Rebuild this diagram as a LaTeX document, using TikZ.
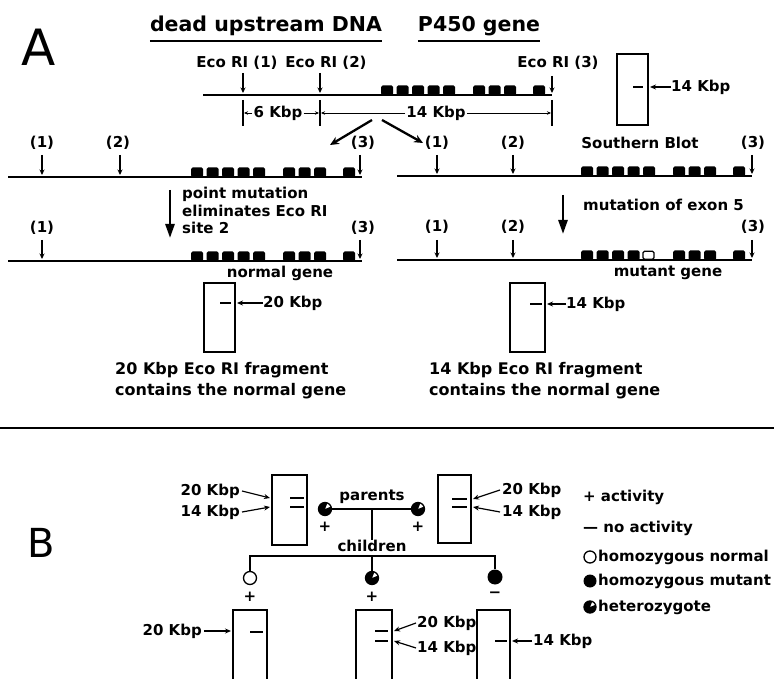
\documentclass[tikz,border=0pt]{standalone}
\usepackage{fontspec}
\setmainfont{DejaVu Sans}
\usetikzlibrary{arrows.meta,calc}

% exons of the P450 gene: #1 = right end of the DNA, #2 = y of the DNA, #3 = open exon (0 = none)
\newcommand{\exonrow}[3]{%
  \foreach \dx [count=\i] in {171,155.5,140,124.5,109,79,63.5,48,19}{
    \ifnum\i=#3
      \draw[exon,fill=white] (#1-\dx,#2-0.8) rectangle ++(11,-8);
    \else
      \fill[exon] (#1-\dx,#2) rectangle ++(12,-9.5);
    \fi
  }}

\begin{document}
\begin{tikzpicture}[x=1pt,y=-1pt,
  lbl/.style={font=\fontsize{15}{17}\selectfont\bfseries, inner sep=0pt},
  capt/.style={font=\fontsize{16}{18}\selectfont\bfseries, inner sep=0pt},
  ttl/.style={font=\fontsize{20.5}{24}\selectfont\bfseries, inner sep=0pt},
  big/.style={font=\fontsize{50}{60}\selectfont, inner sep=0pt},
  dna/.style={line width=1.6pt},
  uline/.style={line width=1.5pt},
  exon/.style={line width=1.2pt, rounded corners=1.5pt},
  site/.style={line width=1.3pt, -{Stealth[length=5.5pt,width=5pt]}},
  dim/.style={line width=0.8pt, -{Stealth[length=4pt,width=3.5pt]}},
  tick/.style={line width=1.4pt},
  split/.style={line width=2.3pt, -{Stealth[length=9pt,width=8pt]}},
  mutarrow/.style={line width=2.6pt, -{Triangle[length=14pt,width=9pt]}},
  blot/.style={line width=1.6pt},
  band/.style={line width=1.6pt},
  kbp/.style={line width=1.2pt, -{Stealth[length=6pt,width=5pt]}},
  ped/.style={line width=1.8pt},
  hom/.style={circle, draw, line width=1.3pt, minimum size=13pt, inner sep=0pt},
  mut/.style={circle, fill, minimum size=15pt, inner sep=0pt},
  het/.style={hom, path picture={
    \fill (path picture bounding box.south west) -- (path picture bounding box.north west)
      -- ($(path picture bounding box.north west)!0.7!(path picture bounding box.north east)$)
      -- (path picture bounding box.center)
      -- ($(path picture bounding box.north east)!0.3!(path picture bounding box.south east)$)
      -- (path picture bounding box.south east) -- cycle;}},
]
\useasboundingbox (0,0) rectangle (774,679);

% ---------------- part A ----------------
\node[big] (partA) at (39,47) {A};
\node[ttl, anchor=base] (upDNA) at (266,32) {dead upstream DNA};
\node[ttl, anchor=base] (pgene) at (479,32) {P450 gene};
\draw[uline] ([yshift=-9pt]upDNA.base west) -- ([yshift=-9pt]upDNA.base east);
\draw[uline] ([yshift=-9pt]pgene.base west) -- ([yshift=-9pt]pgene.base east);

% wild type locus
\node[lbl] (eco1) at (237,63) {Eco RI (1)};
\node[lbl] (eco2) at (326,63) {Eco RI (2)};
\node[lbl] (eco3) at (558,63) {Eco RI (3)};
\draw[dna] (203,95) -- (552,95);
\exonrow{552}{95}{0}
\draw[site] (243,73) -- (243,93);
\draw[site] (320,73) -- (320,93);
\draw[site] (552,76) -- (552,93);
\foreach \x in {243,320,552}
  \draw[tick] (\x,100) -- (\x,126);
\node[lbl] (k6) at (278,113) {6 Kbp};
\node[lbl] (k14) at (436,113) {14 Kbp};
\draw[dim] ([xshift=-1pt]k6.west) -- (244,113);
\draw[dim] ([xshift=1pt]k6.east) -- (319,113);
\draw[dim] ([xshift=-1pt]k14.west) -- (321,113);
\draw[dim] ([xshift=1pt]k14.east) -- (551,113);
\draw[split] (372,120) -- (330,145);
\draw[split] (382,120) -- (423,143);

% Southern blot of the wild type
\draw[blot] (617,54) rectangle (648,125);
\draw[band] (633,87) -- (643,87);
\node[lbl, anchor=west] (sb14) at (671,87) {14 Kbp};
\draw[kbp] (sb14.west) -- (650,87);
\node[lbl] (sblot) at (640,143) {Southern Blot};

% left: loss of site 2
\foreach \x/\t in {42/(1),118/(2),363/(3)}
  \node[lbl] at (\x,143) {\t};
\draw[dna] (8,177) -- (362,177);
\exonrow{362}{177}{0}
\foreach \x in {42,120,360}
  \draw[site] (\x,155) -- (\x,175);
\draw[mutarrow] (170,190) -- (170,238);
\node[lbl, align=left, anchor=north west, font=\fontsize{15}{17.5}\selectfont\bfseries] (pmut) at (182,187)
  {point mutation\\eliminates Eco RI\\site 2};
\node[lbl] (l1b) at (42,228) {(1)};
\node[lbl] (l3b) at (363,228) {(3)};
\draw[dna] (8,261) -- (362,261);
\exonrow{362}{261}{0}
\draw[site] (42,240) -- (42,259);
\draw[site] (360,240) -- (360,259);
\node[lbl] (ngene) at (280,273) {normal gene};
\draw[blot] (204,283) rectangle (235,352);
\draw[band] (220,303) -- (231,303);
\node[lbl, anchor=west] (b20) at (263,303) {20 Kbp};
\draw[kbp] (b20.west) -- (237,303);
\node[capt, anchor=base west] (capL1) at (115,374) {20 Kbp Eco RI fragment};
\node[capt, anchor=base west] (capL2) at (115,395) {contains the normal gene};

% right: exon 5 mutated
\foreach \x/\t in {437/(1),513/(2),753/(3)}
  \node[lbl] at (\x,143) {\t};
\draw[dna] (397,176) -- (752,176);
\exonrow{752}{176}{0}
\foreach \x in {437,513,752}
  \draw[site] (\x,155) -- (\x,174);
\draw[mutarrow] (563,195) -- (563,234);
\node[lbl, anchor=west] (mex5) at (583,205) {mutation of exon 5};
\foreach \x/\t in {437/(1),513/(2),753/(3)}
  \node[lbl] at (\x,227) {\t};
\draw[dna] (397,260) -- (752,260);
\exonrow{752}{260}{5}
\foreach \x in {437,513,752}
  \draw[site] (\x,240) -- (\x,258);
\node[lbl] (mgene) at (668,273) {mutant gene};
\draw[blot] (510,283) rectangle (545,352);
\draw[band] (530,304) -- (542,304);
\node[lbl, anchor=west] (b14) at (566,304) {14 Kbp};
\draw[kbp] (b14.west) -- (547,304);
\node[capt, anchor=base west] (capR1) at (429,374) {14 Kbp Eco RI fragment};
\node[capt, anchor=base west] (capR2) at (429,395) {contains the normal gene};

\draw[line width=2pt] (0,428) -- (774,428);

% ---------------- part B ----------------
\node[big, font=\fontsize{40}{48}\selectfont] (partB) at (41,543) {B};

% parents and their blots
\draw[blot] (272,475) rectangle (307,545);
\draw[band] (290,498) -- (304,498);
\draw[band] (290,507) -- (304,507);
\node[lbl, anchor=east] (pa20) at (240,491) {20 Kbp};
\node[lbl, anchor=east] (pa14) at (240,512) {14 Kbp};
\draw[kbp] ([xshift=2pt]pa20.east) -- (270,498);
\draw[kbp] ([xshift=2pt]pa14.east) -- (270,507);

\draw[blot] (438,475) rectangle (471,543);
\draw[band] (452,499) -- (467,499);
\draw[band] (452,507) -- (467,507);
\node[lbl, anchor=west] (pb20) at (502,490) {20 Kbp};
\node[lbl, anchor=west] (pb14) at (502,512) {14 Kbp};
\draw[kbp] ([xshift=-2pt]pb20.west) -- (473,499);
\draw[kbp] ([xshift=-2pt]pb14.west) -- (473,507);

\node[het] (mom) at (325,509) {};
\node[het] (dad) at (418,509) {};
\draw[ped] (mom) -- (dad);
\node[lbl] (plmom) at (325,527) {+};
\node[lbl] (pldad) at (418,527) {+};
\node[lbl] (parents) at (372,497) {parents};
\node[lbl] (children) at (372,546) {children};
\coordinate (mate) at (372,509);
\draw[ped] (mate) -- (children.north);

% children and their blots
\coordinate (sibL) at (250,556);
\coordinate (sibM) at (372,556);
\coordinate (sibR) at (495,556);
\node[hom] (kid1) at (250,578) {};
\node[het] (kid2) at (372,578) {};
\node[mut] (kid3) at (495,577) {};
\draw[ped] (kid1.north) -- (sibL) -- (sibR) -- (kid3.north);
\draw[ped] (sibM) -- (kid2.north);
\node[lbl] (plk1) at (250,597) {+};
\node[lbl] (plk2) at (372,597) {+};
\node[lbl] (mnk3) at (495,595) {−};

\draw[blot] (233,679) -- (233,610) -- (267,610) -- (267,679);
\draw[band] (250,632) -- (263,632);
\node[lbl, anchor=east] (k1b20) at (202,631) {20 Kbp};
\draw[kbp] ([xshift=2pt]k1b20.east) -- (231,631);

\draw[blot] (356,679) -- (356,610) -- (392,610) -- (392,679);
\draw[band] (375,631) -- (388,631);
\draw[band] (375,641) -- (388,641);
\node[lbl, anchor=west] (k2b20) at (417,623) {20 Kbp};
\node[lbl, anchor=west] (k2b14) at (417,648) {14 Kbp};
\draw[kbp] ([xshift=-1pt]k2b20.west) -- (394,631);
\draw[kbp] ([xshift=-1pt]k2b14.west) -- (394,641);

\draw[blot] (477,679) -- (477,610) -- (510,610) -- (510,679);
\draw[band] (495,641) -- (507,641);
\node[lbl, anchor=west] (k3b14) at (533,641) {14 Kbp};
\draw[kbp] ([xshift=-1pt]k3b14.west) -- (512,641);

% legend
\node[lbl, anchor=west] (lgplus) at (583,497) {+ activity};
\node[lbl, anchor=west] (lgminus) at (583,528) {— no activity};
\node[hom, minimum size=12pt] (lghom) at (590,557) {};
\node[mut, minimum size=13pt] (lgmut) at (590,581) {};
\node[het, minimum size=12pt] (lghet) at (590,607) {};
\node[lbl, anchor=west] (lghomt) at (598,557) {homozygous normal};
\node[lbl, anchor=west] (lgmutt) at (598,581) {homozygous mutant};
\node[lbl, anchor=west] (lghett) at (598,607) {heterozygote};
\end{tikzpicture}
\end{document}
